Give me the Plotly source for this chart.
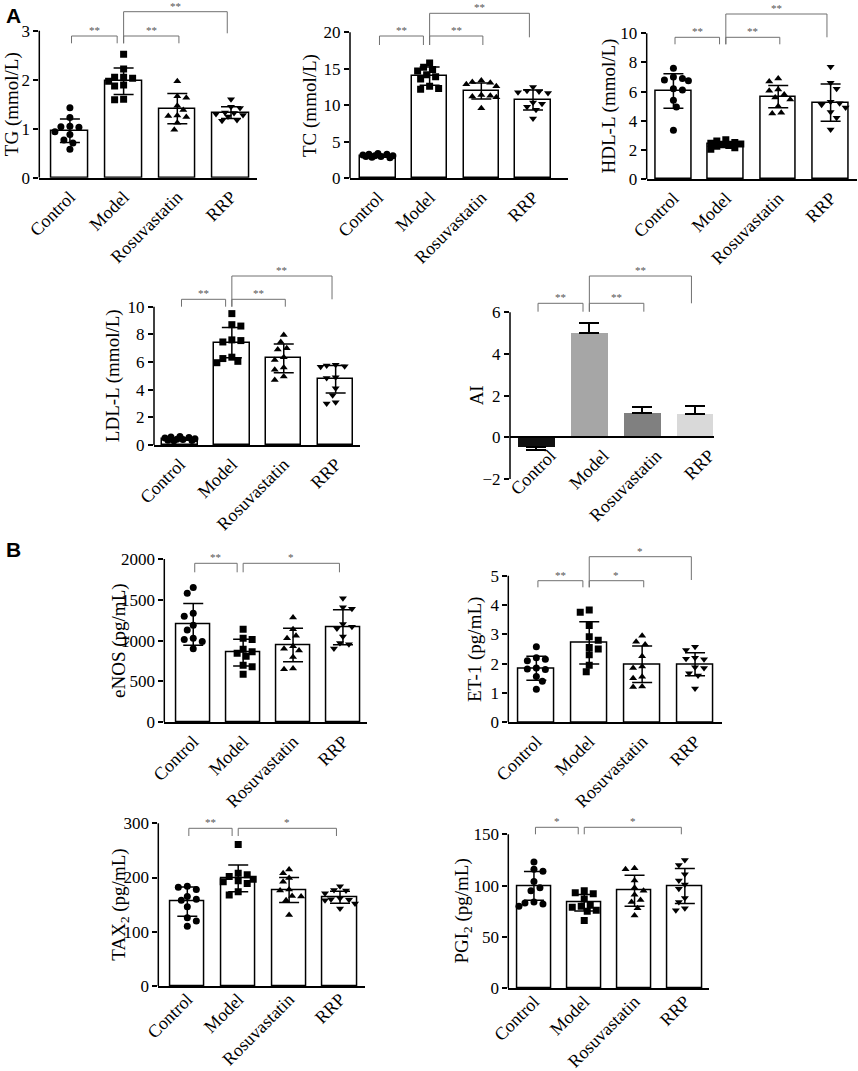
import plotly.graph_objects as go

W, H = 858, 1071
SERIF = "Liberation Serif, Times New Roman, serif"

GROUPS = ["Control", "Model", "Rosuvastatin", "RRP"]
SYMBOLS = ["circle", "square", "triangle-up", "triangle-down"]

# ---- data (mean, SD and individual animals) ----
TG_MEAN = [0.96, 1.97, 1.41, 1.33]
TG_SD = [0.24, 0.27, 0.31, 0.12]
TG_POINTS = [
    [1.43, 1.23, 1.05, 1.04, 1.03, 0.94, 0.88, 0.77, 0.71, 0.58],
    [2.52, 2.22, 2.05, 2.03, 2.05, 1.97, 1.89, 1.87, 1.60, 1.59],
    [1.97, 1.66, 1.63, 1.47, 1.38, 1.27, 1.26, 1.24, 1.12, 0.98],
    [1.60, 1.45, 1.42, 1.33, 1.32, 1.30, 1.28, 1.25, 1.18, 1.16],
]
TG_STARS = ["**", "**", "**"]

TC_MEAN = [3.1, 14.0, 11.96, 10.73]
TC_SD = [0.2, 1.25, 1.1, 1.37]
TC_POINTS = [
    [3.4, 3.3, 3.3, 3.2, 3.1, 3.1, 3.0, 3.0, 2.9, 2.8],
    [15.8, 15.2, 14.9, 14.7, 14.2, 13.9, 13.6, 12.6, 12.3, 12.2],
    [13.4, 13.2, 13.1, 12.9, 12.6, 11.4, 11.3, 11.2, 11.1, 9.6],
    [12.5, 12.0, 11.9, 11.8, 11.7, 10.4, 10.2, 9.8, 9.4, 8.2],
]
TC_STARS = ["**", "**", "**"]

HDL_MEAN = [6.04, 2.38, 5.65, 5.24]
HDL_SD = [1.18, 0.2, 0.76, 1.28]
HDL_POINTS = [
    [7.6, 7.0, 6.9, 6.8, 6.75, 6.2, 6.1, 5.4, 4.95, 3.35],
    [2.7, 2.6, 2.5, 2.45, 2.4, 2.35, 2.3, 2.25, 2.15, 2.05],
    [6.9, 6.7, 6.15, 6.05, 5.8, 5.6, 5.45, 5.0, 4.55, 4.5],
    [7.7, 6.6, 6.2, 5.3, 5.2, 5.1, 4.9, 4.6, 4.2, 3.4],
]
HDL_STARS = ["**", "**", "**"]

LDL_MEAN = [0.43, 7.4, 6.27, 4.75]
LDL_SD = [0.08, 1.1, 1.04, 0.99]
LDL_POINTS = [
    [0.62, 0.58, 0.55, 0.5, 0.45, 0.42, 0.4, 0.35, 0.32, 0.3],
    [9.5, 8.7, 8.6, 7.6, 7.55, 7.45, 6.35, 6.25, 6.05, 5.95],
    [7.95, 7.45, 7.0, 6.9, 6.35, 6.15, 5.6, 5.45, 4.95, 4.7],
    [5.8, 5.75, 5.7, 5.65, 4.9, 4.85, 4.1, 3.6, 3.1, 3.0],
]
LDL_STARS = ["**", "**", "**"]

AI_MEAN = [-0.48, 5.02, 1.15, 1.14]
AI_ERR = [0.13, 0.48, 0.32, 0.36]
AI_STARS = ["**", "**", "**"]

ENOS_MEAN = [1200, 853, 947, 1163]
ENOS_SD = [255, 165, 204, 214]
ENOS_POINTS = [
    [1650, 1580, 1335, 1300, 1190, 1130, 1030, 1015, 990, 900],
    [1140, 1030, 1015, 895, 865, 845, 810, 700, 680, 590],
    [1285, 1140, 1060, 1030, 930, 900, 880, 800, 660, 650],
    [1520, 1410, 1390, 1205, 1170, 1150, 1050, 970, 955, 905],
]
ENOS_STARS = ["**", "*"]

ET1_MEAN = [1.84, 2.71, 1.98, 1.98]
ET1_SD = [0.41, 0.72, 0.62, 0.39]
ET1_POINTS = [
    [2.58, 2.2, 2.15, 2.1, 1.85, 1.82, 1.8, 1.56, 1.4, 1.13],
    [3.83, 3.75, 3.3, 2.92, 2.8, 2.55, 2.5, 2.3, 1.95, 1.72],
    [2.95, 2.75, 2.65, 2.25, 1.9, 1.85, 1.55, 1.5, 1.22, 1.2],
    [2.58, 2.47, 2.2, 2.17, 2.15, 1.88, 1.85, 1.67, 1.6, 1.15],
]
ET1_STARS = ["**", "*", "*"]

TAX2_MEAN = [155.5, 198.5, 177, 163.5]
TAX2_SD = [27, 24.5, 23, 11]
TAX2_POINTS = [
    [184, 182, 178, 165, 160, 158, 146, 126, 120, 110],
    [261, 208, 205, 202, 197, 194, 192, 189, 174, 168],
    [215, 208, 199, 192, 178, 176, 166, 165, 158, 131],
    [184, 177, 176, 171, 162, 160, 159, 158, 152, 143],
]
TAX2_STARS = ["**", "*"]

PGI2_MEAN = [99.7, 83.4, 95, 99.7]
PGI2_SD = [14, 8, 15, 17]
PGI2_POINTS = [
    [123, 116, 114, 104, 98, 95, 84, 83, 82, 80],
    [95, 93, 92, 87, 81, 80, 79, 76, 75, 66],
    [117, 116, 105, 98, 95, 91, 86, 84, 78, 71],
    [125, 120, 111, 105, 101, 97, 88, 84, 78, 76],
]
PGI2_STARS = ["*", "*"]

AI_COLORS = ["#111111", "#a6a6a6", "#808080", "#d9d9d9"]

# ---- panel geometry in pixels of the 858x1071 page ----
panels = [
    dict(title="TG (mmol/L)", tx=12, xl=39.3, xr=256.7, sp=53.7, x0=-0.57, pb=177.7, pt=30.7,
         ymin=0, ytop=3, dtick=1, mean=TG_MEAN, err=TG_SD, pts=TG_POINTS, stars=TG_STARS,
         low=(36, 43.3), high=(11.7, 33.3)),
    dict(title="TC (mmol/L)", tx=310.7, xl=350, xr=568.3, sp=51.7, x0=-0.54, pb=178.3, pt=32.3,
         ymin=0, ytop=20, dtick=5, mean=TC_MEAN, err=TC_SD, pts=TC_POINTS, stars=TC_STARS,
         low=(36, 45), high=(13.3, 37.3)),
    dict(title="HDL-L (mmol/L)", tx=609.3, xl=646.7, xr=856.7, sp=52.4, x0=-0.51, pb=179, pt=33.3,
         ymin=0, ytop=10, dtick=2, mean=HDL_MEAN, err=HDL_SD, pts=HDL_POINTS, stars=HDL_STARS,
         low=(37.3, 44.3), high=(14, 37.3)),
    dict(title="LDL-L (mmol/L)", tx=113.3, xl=154, xr=360, sp=51.9, x0=-0.5, pb=445, pt=306.7,
         ymin=0, ytop=10, dtick=2, mean=LDL_MEAN, err=LDL_SD, pts=LDL_POINTS, stars=LDL_STARS,
         low=(299.3, 306.7), high=(276, 299.3)),
    dict(title="AI", tx=476.7, xl=510, xr=714.3, sp=52.9, x0=-0.5, pb=479, pt=312.3,
         ymin=-2, ytop=6, dtick=2, mean=AI_MEAN, err=AI_ERR, pts=None, stars=AI_STARS,
         low=(303.3, 311.7), high=(276, 303.3)),
    dict(title="eNOS (pg/mL)", tx=118.3, xl=164.3, xr=366.7, sp=49.9, x0=-0.58, pb=722.3, pt=559,
         ymin=0, ytop=2000, dtick=500, mean=ENOS_MEAN, err=ENOS_SD, pts=ENOS_POINTS, stars=ENOS_STARS,
         low=(563.3, 572.3), high=None),
    dict(title="ET-1 (pg/mL)", tx=475, xl=508.3, xr=721.7, sp=52.9, x0=-0.53, pb=722.3, pt=575.7,
         ymin=0, ytop=5, dtick=1, mean=ET1_MEAN, err=ET1_SD, pts=ET1_POINTS, stars=ET1_STARS,
         low=(580.7, 587.3), high=(556.7, 580)),
    dict(title="TAX<sub>2</sub> (pg/mL)", tx=120, xl=158.3, xr=365, sp=50.9, x0=-0.57, pb=986, pt=823.3,
         ymin=0, ytop=300, dtick=100, mean=TAX2_MEAN, err=TAX2_SD, pts=TAX2_POINTS, stars=TAX2_STARS,
         low=(828.3, 836), high=None),
    dict(title="PGI<sub>2</sub> (pg/mL)", tx=463.3, xl=508.3, xr=709.3, sp=50.3, x0=-0.51, pb=988.3, pt=834.3,
         ymin=0, ytop=150, dtick=50, mean=PGI2_MEAN, err=PGI2_SD, pts=PGI2_POINTS, stars=PGI2_STARS,
         low=(827.3, 834.3), high=None),
]


def swarm(vals, perunit, sp, dmin=7.0, step=3.0, maxoff=15.0):
    # compact beeswarm: nearest free slot within the bar, else least crowded slot
    placed = []
    offs = [0.0] * len(vals)
    order = sorted(range(len(vals)), key=lambda i: -vals[i])
    nslots = int(maxoff // step)
    for n, i in enumerate(order):
        y = vals[i] * perunit
        sign = 1 if n % 2 == 0 else -1
        cands = [0.0]
        for k in range(1, nslots + 1):
            cands += [sign * k * step, -sign * k * step]
        best, bestd = None, -1
        for c in cands:
            d = min([((c - px) ** 2 + (y - py) ** 2) ** 0.5 for px, py in placed] or [99])
            if d >= dmin:
                best = c
                break
            if d > bestd:
                best, bestd = c, d
        placed.append((best, y))
        offs[i] = best / sp
    return offs


fig = go.Figure()
shapes, annos = [], []
cats = list(range(len(GROUPS)))

for k, p in enumerate(panels, start=1):
    xa, ya = ("x", "y") if k == 1 else (f"x{k}", f"y{k}")
    perunit = (p["pb"] - p["pt"]) / (p["ytop"] - p["ymin"])
    tops = [p["low"][0]] + ([p["high"][0]] if p["high"] else [])
    pext = max(min(tops) - 18, 0)
    yr_top = p["ytop"] + (p["pt"] - pext) / perunit

    def v(px, p=p, perunit=perunit):
        return p["ymin"] + (p["pb"] - px) / perunit

    xr_end = p["x0"] + (p["xr"] - p["xl"]) / p["sp"]
    is_ai = p["pts"] is None

    xaxis = dict(domain=[p["xl"] / W, p["xr"] / W], range=[p["x0"], xr_end],
                 tickmode="array", tickvals=cats, ticktext=GROUPS, tickangle=-45, ticks="",
                 showline=True, linecolor="black", linewidth=1.5, showgrid=False,
                 zeroline=False, automargin=False,
                 tickfont=dict(family=SERIF, size=18, color="black"),
                 anchor=ya, fixedrange=True)
    if is_ai:
        xaxis["anchor"] = "free"
        xaxis["position"] = 1 - (p["pb"] - (0 - p["ymin"]) * perunit) / H
        xaxis["ticklabelshift"] = 14
    if p["pb"] > 900:
        # bottom row: keep the long labels inside the page
        xaxis["ticklabelstandoff"] = -6
    tickvals = [p["ymin"] + i * p["dtick"]
                for i in range(int(round((p["ytop"] - p["ymin"]) / p["dtick"])) + 1)]
    yaxis = dict(domain=[1 - p["pb"] / H, 1 - pext / H], range=[p["ymin"], yr_top],
                 tickmode="array", tickvals=tickvals,
                 ticks="outside", ticklen=5, tickwidth=1.5, tickcolor="black",
                 showline=False, showgrid=False, zeroline=False, anchor=xa, automargin=False,
                 tickfont=dict(family=SERIF, size=17, color="black"), fixedrange=True)
    fig.update_layout({f"xaxis{'' if k == 1 else k}": xaxis,
                       f"yaxis{'' if k == 1 else k}": yaxis})

    # y axis line only up to the top tick
    shapes.append(dict(type="line", xref=f"{xa} domain", yref=ya, x0=0, x1=0,
                       y0=p["ymin"], y1=p["ytop"], line=dict(color="black", width=1.5)))

    if is_ai:
        fig.add_trace(go.Bar(
            x=cats, y=p["mean"], width=0.69, xaxis=xa, yaxis=ya,
            marker=dict(color=AI_COLORS, line=dict(width=0)),
            error_y=dict(type="data", symmetric=False,
                         array=[e if m > 0 else 0 for m, e in zip(p["mean"], p["err"])],
                         arrayminus=[e if m < 0 else 0 for m, e in zip(p["mean"], p["err"])],
                         color="black", thickness=2, width=10)))
    else:
        fig.add_trace(go.Bar(
            x=cats, y=p["mean"], width=0.68, xaxis=xa, yaxis=ya,
            marker=dict(color="white", line=dict(color="black", width=1.5))))
        for g, vals in enumerate(p["pts"]):
            offs = swarm(vals, perunit, p["sp"])
            fig.add_trace(go.Scatter(
                x=[g + o for o in offs], y=vals, mode="markers", xaxis=xa, yaxis=ya,
                marker=dict(symbol=SYMBOLS[g], size=7, color="black", line=dict(width=0))))
        fig.add_trace(go.Scatter(
            x=cats, y=p["mean"], mode="markers", xaxis=xa, yaxis=ya,
            marker=dict(size=1, color="rgba(0,0,0,0)"),
            error_y=dict(type="data", array=p["err"], color="black", thickness=1.5, width=10)))

    # significance brackets
    if len(p["stars"]) == 3:
        spans = [(0.03, 0.88, "low"), (1.0, 2.03, "low"), (1.0, 2.93, "high")]
    else:
        spans = [(0.03, 0.88, "low"), (1.0, 2.93, "low")]
    for (bx0, bx1, lvl), star in zip(spans, p["stars"]):
        ytop_b = v(p["low"][0]) if lvl == "low" else v(p["high"][0])
        yleft = v(p["low"][1])
        yright = v(p["low"][1]) if lvl == "low" else v(p["high"][1])
        shapes.append(dict(type="path", xref=xa, yref=ya,
                           path=f"M {bx0},{yleft} L {bx0},{ytop_b} L {bx1},{ytop_b} L {bx1},{yright}",
                           line=dict(color="#707070", width=1)))
        annos.append(dict(x=(bx0 + bx1) / 2, y=ytop_b, xref=xa, yref=ya, text=star,
                          showarrow=False, yanchor="bottom", yshift=-2,
                          font=dict(family=SERIF, size=11, color="#555555")))

    annos.append(dict(x=p["tx"] / W, y=1 - (p["pb"] + p["pt"]) / 2 / H, xref="paper", yref="paper",
                      text=p["title"], textangle=-90, showarrow=False,
                      xanchor="center", yanchor="middle",
                      font=dict(family=SERIF, size=19, color="black")))

annos.append(dict(x=4 / W, y=1 - 2 / H, xref="paper", yref="paper", text="<b>A</b>",
                  showarrow=False, xanchor="left", yanchor="top",
                  font=dict(family="Liberation Sans, Arial", size=21, color="black")))
annos.append(dict(x=4 / W, y=1 - 536 / H, xref="paper", yref="paper", text="<b>B</b>",
                  showarrow=False, xanchor="left", yanchor="top",
                  font=dict(family="Liberation Sans, Arial", size=21, color="black")))

fig.update_layout(template="none", width=W, height=H, margin=dict(l=0, r=0, t=0, b=0),
                  paper_bgcolor="white", plot_bgcolor="white", showlegend=False,
                  shapes=shapes, annotations=annos, bargap=0)

# the page body has a default 8px margin; drop it so the figure fills the window
fig.write_html("out.html", config={"displayModeBar": False},
               post_script="document.body.style.margin='0px';")
